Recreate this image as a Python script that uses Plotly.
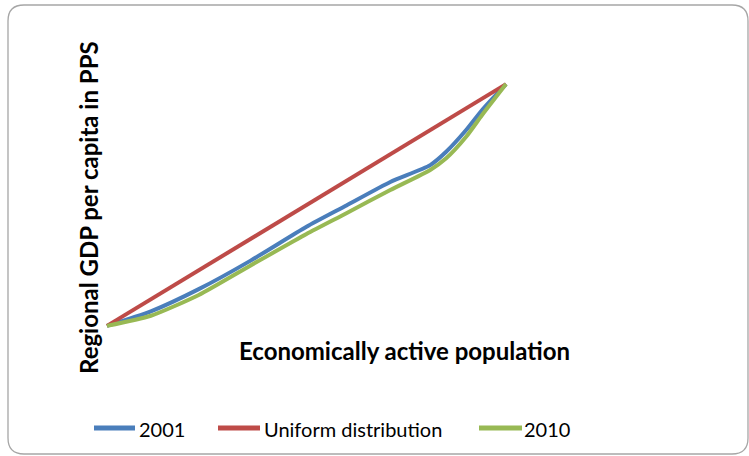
import plotly.graph_objects as go

# Data (Lorenz curves)
pop_share = [0, 0.11, 0.23, 0.36, 0.50, 0.60, 0.71, 0.81, 0.85, 0.90, 0.94, 1.0]
gdp_2001 = [0, 0.060, 0.152, 0.270, 0.410, 0.498, 0.595, 0.665, 0.720, 0.810, 0.893, 1.0]
gdp_2010 = [0, 0.042, 0.128, 0.250, 0.380, 0.466, 0.562, 0.645, 0.693, 0.782, 0.872, 1.0]
uniform_x = [0, 1]
uniform_y = [0, 1]

series_names = ["2001", "Uniform distribution", "2010"]
series_colors = ["#4A7EBB", "#BE4B48", "#98B954"]

W, H = 749, 456
ML, MR, MT, MB = 87, 223, 72, 118
PW, PH = W - ML - MR, H - MT - MB

fig = go.Figure()
fig.add_trace(go.Scatter(x=pop_share, y=gdp_2001, mode="lines", name=series_names[0],
                         line=dict(color=series_colors[0], width=4, shape="spline", smoothing=0.6)))
fig.add_trace(go.Scatter(x=uniform_x, y=uniform_y, mode="lines", name=series_names[1],
                         line=dict(color=series_colors[1], width=4)))
fig.add_trace(go.Scatter(x=pop_share, y=gdp_2010, mode="lines", name=series_names[2],
                         line=dict(color=series_colors[2], width=4, shape="spline", smoothing=0.6)))

def px2paper_x(px):
    return (px - ML) / PW

def px2paper_y(py):
    return 1 - (py - MT) / PH

# rounded frame
x0, y0, x1, y1, r = 8, 5, 748, 454, 16
path = (
    f"M {px2paper_x(x0 + r)},{px2paper_y(y0)} "
    f"L {px2paper_x(x1 - r)},{px2paper_y(y0)} "
    f"Q {px2paper_x(x1)},{px2paper_y(y0)} {px2paper_x(x1)},{px2paper_y(y0 + r)} "
    f"L {px2paper_x(x1)},{px2paper_y(y1 - r)} "
    f"Q {px2paper_x(x1)},{px2paper_y(y1)} {px2paper_x(x1 - r)},{px2paper_y(y1)} "
    f"L {px2paper_x(x0 + r)},{px2paper_y(y1)} "
    f"Q {px2paper_x(x0)},{px2paper_y(y1)} {px2paper_x(x0)},{px2paper_y(y1 - r)} "
    f"L {px2paper_x(x0)},{px2paper_y(y0 + r)} "
    f"Q {px2paper_x(x0)},{px2paper_y(y0)} {px2paper_x(x0 + r)},{px2paper_y(y0)} Z"
)

shapes = [dict(type="path", path=path, xref="paper", yref="paper",
               line=dict(color="#A6A6A6", width=1.3), layer="below")]
annotations = [
    dict(text="<b>Regional GDP per capita in PPS</b>", textangle=-90, showarrow=False,
         xref="paper", yref="paper", x=px2paper_x(88), y=px2paper_y(208),
         xanchor="center", yanchor="middle", font=dict(size=24)),
    dict(text="<b>Economically active population</b>", showarrow=False,
         xref="paper", yref="paper", x=px2paper_x(404), y=px2paper_y(350),
         xanchor="center", yanchor="middle", font=dict(size=24)),
]

# legend (drawn manually to match long line keys)
leg_y = 428
leg_line_x = [(94, 135), (218, 260), (479, 522)]
leg_text_x = [139, 264, 524]
for (lx0, lx1), tx, name, col in zip(leg_line_x, leg_text_x, series_names, series_colors):
    shapes.append(dict(type="line", xref="paper", yref="paper",
                       x0=px2paper_x(lx0), x1=px2paper_x(lx1),
                       y0=px2paper_y(leg_y), y1=px2paper_y(leg_y),
                       line=dict(color=col, width=5)))
    annotations.append(dict(text=name, showarrow=False, xref="paper", yref="paper",
                            x=px2paper_x(tx), y=px2paper_y(leg_y + 1),
                            xanchor="left", yanchor="middle", xshift=-2,
                            font=dict(size=20)))

fig.update_layout(
    width=W, height=H,
    margin=dict(l=ML, r=MR, t=MT, b=MB),
    paper_bgcolor="white", plot_bgcolor="white",
    font=dict(family="Lato, Open Sans, sans-serif", color="black", size=17),
    showlegend=False,
    xaxis=dict(range=[-0.05, 1.05], visible=False),
    yaxis=dict(range=[-0.05, 1.05], visible=False),
    shapes=shapes,
    annotations=annotations,
)

fig.write_html("out.html")
